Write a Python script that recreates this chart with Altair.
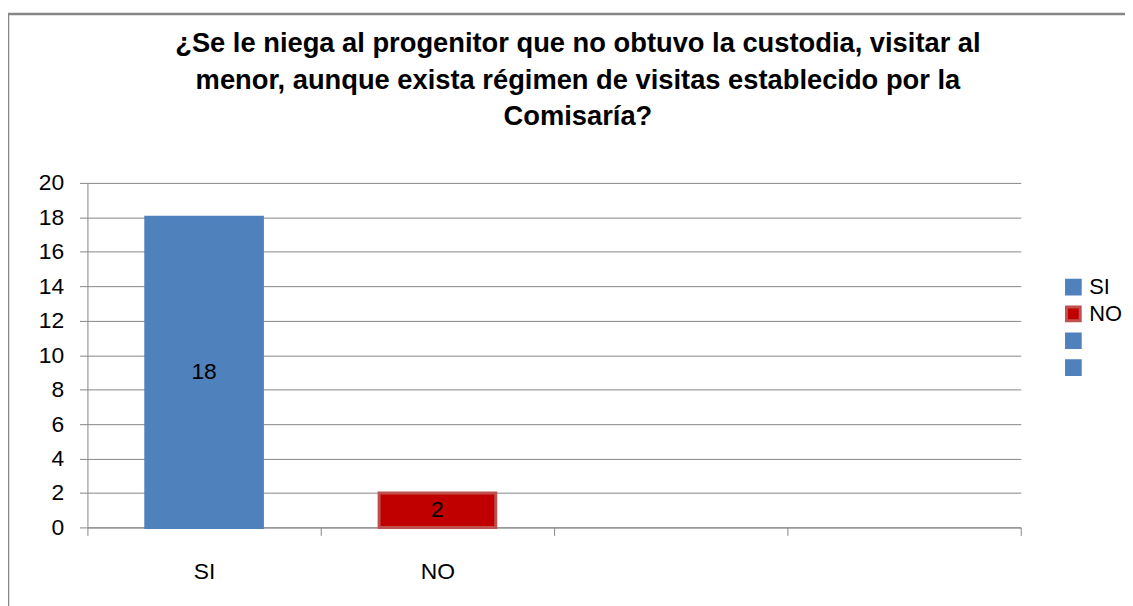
import altair as alt
import pandas as pd

categories = ["SI", "NO"]
values = [18, 2]
all_categories = ["SI", "NO", " ", "  "]
fill_colors = ["#4F81BD", "#C00000", "#4F81BD", "#4F81BD"]
stroke_colors = ["#4F81BD", "#C0504D", "#4F81BD", "#4F81BD"]
title_lines = [
    "¿Se le niega al progenitor que no obtuvo la custodia, visitar al",
    "menor, aunque exista régimen de visitas establecido por la",
    "Comisaría?",
]

df = pd.DataFrame({"cat": categories, "val": values})

FONT = "Liberation Sans"
FS = 23

x_axis = alt.Axis(
    title=None, tickBand="extent", labelAngle=0, tickSize=8, labelPadding=25,
    domainColor="#868686", tickColor="#868686", labelFontSize=FS,
    labelFont=FONT, labelColor="black", grid=False,
)
y_axis = alt.Axis(
    title=None, values=list(range(0, 21, 2)), tickSize=8, labelPadding=16,
    labelOverlap=False, labelFlush=False,
    domainColor="#868686", tickColor="#868686", gridColor="#868686",
    labelFontSize=FS, labelFont=FONT, labelColor="black",
)
x_scale = alt.Scale(domain=all_categories, paddingInner=0, paddingOuter=0)
y_scale = alt.Scale(domain=[0, 20], nice=False)

color_scale = alt.Scale(domain=all_categories, range=fill_colors)
stroke_scale = alt.Scale(domain=all_categories, range=stroke_colors)

legend = alt.Legend(
    title=None, orient="none", legendX=982, legendY=94,
    symbolType="square", symbolSize=190, symbolStrokeWidth=3,
    labelFontSize=22, labelFont=FONT, labelColor="black",
    rowPadding=1, labelOffset=5, symbolOpacity=1,
)

bars = alt.Chart(df).mark_bar(width=alt.RelativeBandSize(0.5), strokeWidth=3).encode(
    x=alt.X("cat:N", scale=x_scale, sort=all_categories, axis=x_axis),
    y=alt.Y("val:Q", scale=y_scale, axis=y_axis),
    color=alt.Color("cat:N", scale=color_scale, legend=legend),
    stroke=alt.Stroke("cat:N", scale=stroke_scale, legend=legend),
)

labels = alt.Chart(df).transform_calculate(mid="datum.val / 2").mark_text(
    fontSize=FS, font=FONT, color="black"
).encode(
    x=alt.X("cat:N", scale=x_scale, sort=all_categories, axis=x_axis),
    y=alt.Y("mid:Q", scale=y_scale, axis=y_axis),
    text=alt.Text("val:Q"),
)

border = alt.Chart(pd.DataFrame({"a": [0]})).mark_rect(
    fill=None, stroke="#868686", strokeWidth=2.5
).encode(
    x=alt.value(-80),
    x2=alt.value(1070),
    y=alt.value(-170),
    y2=alt.value(445),
)

title = alt.Chart(pd.DataFrame({"t": ["\n".join(title_lines)]})).mark_text(
    fontSize=27.5, font=FONT, fontWeight="bold", color="black",
    align="center", baseline="top", lineBreak="\n", lineHeight=37,
).encode(
    x=alt.value(494),
    y=alt.value(-154),
    text="t:N",
)

chart = alt.layer(border, bars, labels, title).properties(
    width=940,
    height=347,
    autosize=alt.AutoSizeParams(type="none"),
    padding={"left": 80, "top": 174, "right": 105, "bottom": 77},
).configure_view(stroke=None)

chart.save("out.html", embed_options={"renderer": "svg", "actions": False})
